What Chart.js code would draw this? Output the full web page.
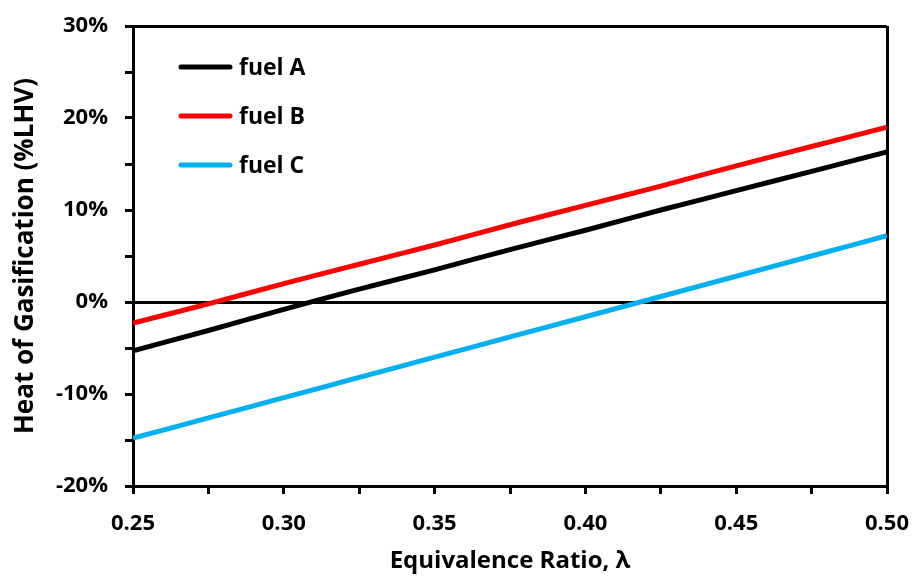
<!DOCTYPE html>
<html>
<head>
<meta charset="utf-8">
<script src="https://cdn.jsdelivr.net/npm/chart.js@4/dist/chart.umd.min.js"></script>
<style>
  html, body { margin: 0; padding: 0; background: #fff; }
  #wrap { width: 914px; height: 576px; }
</style>
</head>
<body>
<div id="wrap"><canvas id="chart"></canvas></div>
<script>
// equivalence ratio values (x)
const ratios = [0.25, 0.275, 0.30, 0.325, 0.35, 0.375, 0.40, 0.425, 0.45, 0.475, 0.50];
// heat of gasification, %LHV
const fuelA = [-5.3, -3.1, -0.8, 1.4, 3.5, 5.7, 7.8, 10.0, 12.1, 14.2, 16.3];
const fuelB = [-2.3, -0.2, 2.0, 4.1, 6.2, 8.4, 10.5, 12.6, 14.8, 16.9, 19.0];
const fuelC = [-14.8, -12.6, -10.4, -8.2, -6.0, -3.8, -1.6, 0.6, 2.8, 5.0, 7.2];
const seriesNames = ['fuel A', 'fuel B', 'fuel C'];
const seriesColors = ['#000000', '#FF0000', '#00B0F0'];

const FONT = '"Open Sans", Calibri, sans-serif';

function toPoints(vals) {
    return ratios.map((x, i) => ({ x: x, y: vals[i] }));
}

// legend drawn inside the plot, top-left
const insideLegend = {
    id: 'insideLegend',
    afterDraw(chart) {
        const ctx = chart.ctx;
        const area = chart.chartArea;
        ctx.save();
        chart.data.datasets.forEach((ds, i) => {
            const y = area.top + 41 + i * 49;
            const x = area.left + 48;
            ctx.strokeStyle = ds.borderColor;
            ctx.lineWidth = 5;
            ctx.lineCap = 'round';
            ctx.beginPath();
            ctx.moveTo(x, y);
            ctx.lineTo(x + 49, y);
            ctx.stroke();
            ctx.fillStyle = '#000';
            ctx.font = 'bold 23px ' + FONT;
            ctx.textBaseline = 'middle';
            ctx.textAlign = 'left';
            ctx.fillText(ds.label, x + 58, y + 1);
        });
        ctx.restore();
    }
};

const datasets = [fuelA, fuelB, fuelC].map((vals, i) => ({
    label: seriesNames[i],
    data: toPoints(vals),
    borderColor: seriesColors[i],
    backgroundColor: seriesColors[i],
    borderWidth: 5,
    pointRadius: 0,
    tension: 0.2,
    fill: false
}));

new Chart(document.getElementById('chart').getContext('2d'), {
    type: 'line',
    data: { datasets: datasets },
    options: {
        responsive: true,
        maintainAspectRatio: false,
        animation: false,
        layout: { padding: { left: 10, right: 27, top: 26, bottom: 0 } },
        plugins: {
            legend: { display: false },
            tooltip: { enabled: false }
        },
        scales: {
            x: {
                type: 'linear',
                min: 0.25,
                max: 0.50,
                afterFit(scale) {
                    scale.height = 90;
                    scale.paddingLeft = 0;
                    scale.paddingRight = 0;
                },
                border: { display: true, color: '#000', width: 3 },
                grid: {
                    color: c => Math.abs(c.tick.value - 0.5) < 1e-6 ? '#000' : 'rgba(0,0,0,0)',
                    lineWidth: 3,
                    tickColor: '#000',
                    tickWidth: 3,
                    tickLength: 8
                },
                ticks: {
                    stepSize: 0.025,
                    color: '#000',
                    padding: 17,
                    font: { family: FONT, size: 22, weight: 'bold' },
                    callback: v => Math.round(v * 1000) % 50 === 0 ? v.toFixed(2) : ''
                },
                title: {
                    display: true,
                    text: 'Equivalence Ratio, λ',
                    color: '#000',
                    padding: 0,
                    font: { family: FONT, size: 24, weight: 'bold' }
                }
            },
            y: {
                min: -20,
                max: 30,
                afterFit(scale) {
                    scale.width = 123;
                    scale.paddingTop = 0;
                    scale.paddingBottom = 0;
                },
                border: { display: true, color: '#000', width: 3 },
                grid: {
                    color: c => (c.tick.value === 0 || c.tick.value === 30) ? '#000' : 'rgba(0,0,0,0)',
                    lineWidth: 3,
                    tickColor: '#000',
                    tickWidth: 3,
                    tickLength: 8
                },
                ticks: {
                    stepSize: 5,
                    color: '#000',
                    padding: 17,
                    font: { family: FONT, size: 22, weight: 'bold' },
                    callback: v => v % 10 === 0 ? v + '%' : ''
                },
                title: {
                    display: true,
                    text: 'Heat of Gasification (%LHV)',
                    color: '#000',
                    padding: 0,
                    font: { family: FONT, size: 26, weight: 'bold' }
                }
            }
        }
    },
    plugins: [insideLegend]
});
</script>
</body>
</html>
